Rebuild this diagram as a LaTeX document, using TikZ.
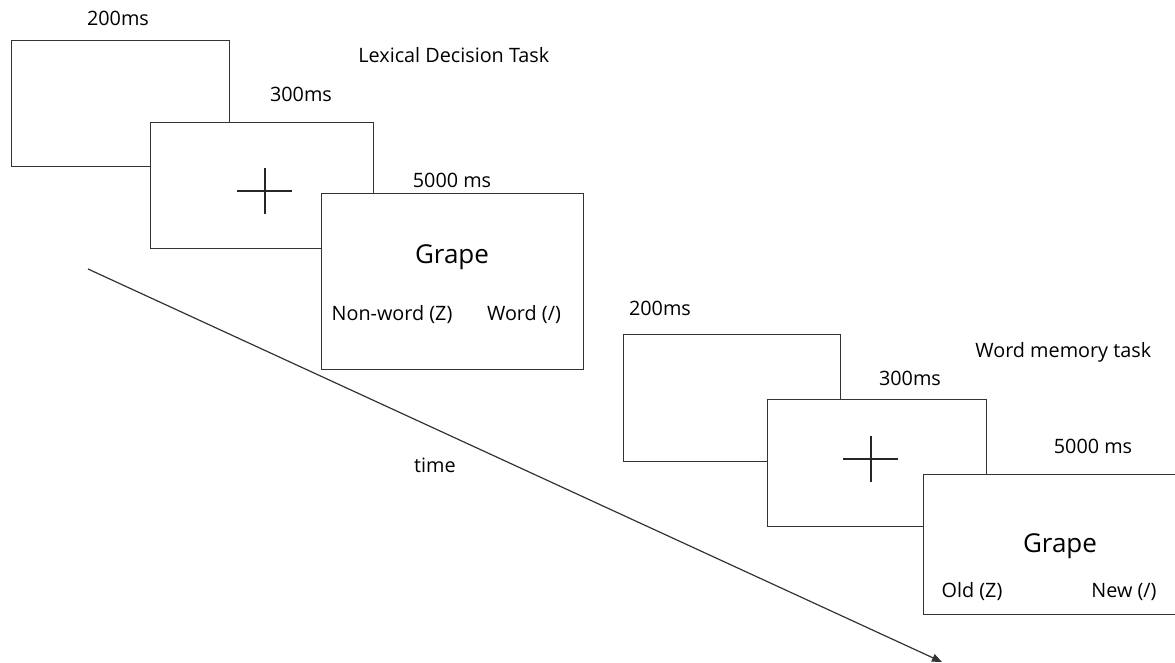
\documentclass[tikz,border=0pt]{standalone}
\usepackage{fontspec}
\setmainfont{Open Sans}
\usetikzlibrary{arrows.meta}
\tikzset{
  scr/.style={draw=black!80, fill=white, line width=0.65pt, rectangle, inner sep=0pt, anchor=north west},
  lbl/.style={inner sep=0pt, font=\fontsize{9.9pt}{11pt}\selectfont},
  big/.style={inner sep=0pt, font=\fontsize{13pt}{15pt}\selectfont},
  crs/.style={draw=black!85, line width=0.7pt},
}
\begin{document}
\begin{tikzpicture}[x=0.5pt,y=-0.5pt]
\useasboundingbox (0,0) rectangle (1175,663);
% Lexical decision task
\node[scr, minimum width=109pt, minimum height=63pt] (b1) at (11,40) {};
\node[scr, minimum width=111.5pt, minimum height=63pt] (b2) at (150,122) {};
\coordinate (c1) at (265,191);
\draw[crs] ([xshift=-14pt]c1) -- ([xshift=13.5pt]c1);
\draw[crs] ([yshift=11.5pt]c1) -- ([yshift=-11.5pt]c1);
\node[scr, minimum width=131pt, minimum height=88pt] (b3) at (321,193) {};
\node[lbl] (t1) at (118,18) {200ms};
\node[lbl, anchor=west] (lex) at (358,55) {Lexical Decision Task};
\node[lbl] (t2) at (301,94) {300ms};
\node[lbl] (t3) at (452,180) {5000 ms};
\node[big] (g1) at (452,257) {Grape};
\node[lbl] (nw) at (392,315) {Non-word (Z)};
\node[lbl] (w) at (524,315) {Word (/)};
% Word memory task
\node[scr, minimum width=108.5pt, minimum height=63.5pt] (b4) at (623,334) {};
\node[scr, minimum width=109.5pt, minimum height=63.5pt] (b5) at (767,399) {};
\coordinate (c2) at (871,459);
\draw[crs] ([xshift=-14pt]c2) -- ([xshift=13.5pt]c2);
\draw[crs] ([yshift=11.5pt]c2) -- ([yshift=-11.5pt]c2);
\node[scr, minimum width=130pt, minimum height=70pt] (b6) at (923,474) {};
\node[lbl] (t4) at (660,308) {200ms};
\node[lbl, anchor=west] (wm) at (975,352) {Word memory task};
\node[lbl] (t5) at (910,378) {300ms};
\node[lbl] (t6) at (1093,446) {5000 ms};
\node[big] (g2) at (1060,546) {Grape};
\node[lbl] (old) at (972,592) {Old (Z)};
\node[lbl] (new) at (1124,592) {New (/)};
% time arrow
\node[lbl] (time) at (435,465) {time};
\coordinate (a0) at (88,269);
\coordinate (a1) at (942,662);
\draw[black!80, line width=0.6pt, -{Triangle[length=5pt,width=4pt]}] (a0) -- (a1);
\end{tikzpicture}
\end{document}
